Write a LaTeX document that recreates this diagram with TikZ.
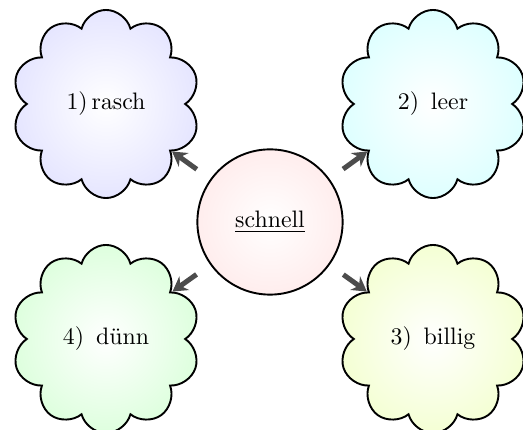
\documentclass[tikz,border=0pt]{standalone}
\usetikzlibrary{shapes.symbols,arrows.meta}
\begin{document}
\begin{tikzpicture}[x=0.42pt,y=-0.42pt,
  idea/.style={cloud, cloud puffs=10, cloud puff arc=150, draw, thick, minimum width=79pt, minimum height=79pt, inner sep=0pt, aspect=1},
  hub/.style={circle, draw, thick, minimum size=61pt, inner sep=0pt},
  link/.style={draw=black!70, line width=2.1pt, -{Stealth[length=6pt,width=7pt]}, shorten <=7pt}]
\useasboundingbox (0,0) rectangle (523,430);
\node[hub, inner color=white, outer color=red!7] (c) at (270,222) {\underline{schnell}};
\node[idea, inner color=white, outer color=blue!10] (a) at (106,104) {1)\,rasch};
\node[idea, inner color=white, outer color=cyan!13] (b) at (433,104) {2)\enskip leer};
\node[idea, inner color=white, outer color=lime!17] (d) at (433,339) {3)\enskip billig};
\node[idea, inner color=white, outer color=green!13] (e) at (106,339) {4)\enskip dünn};
\draw[link] (c) -- (a);
\draw[link] (c) -- (b);
\draw[link] (c) -- (d);
\draw[link] (c) -- (e);
\end{tikzpicture}
\end{document}
